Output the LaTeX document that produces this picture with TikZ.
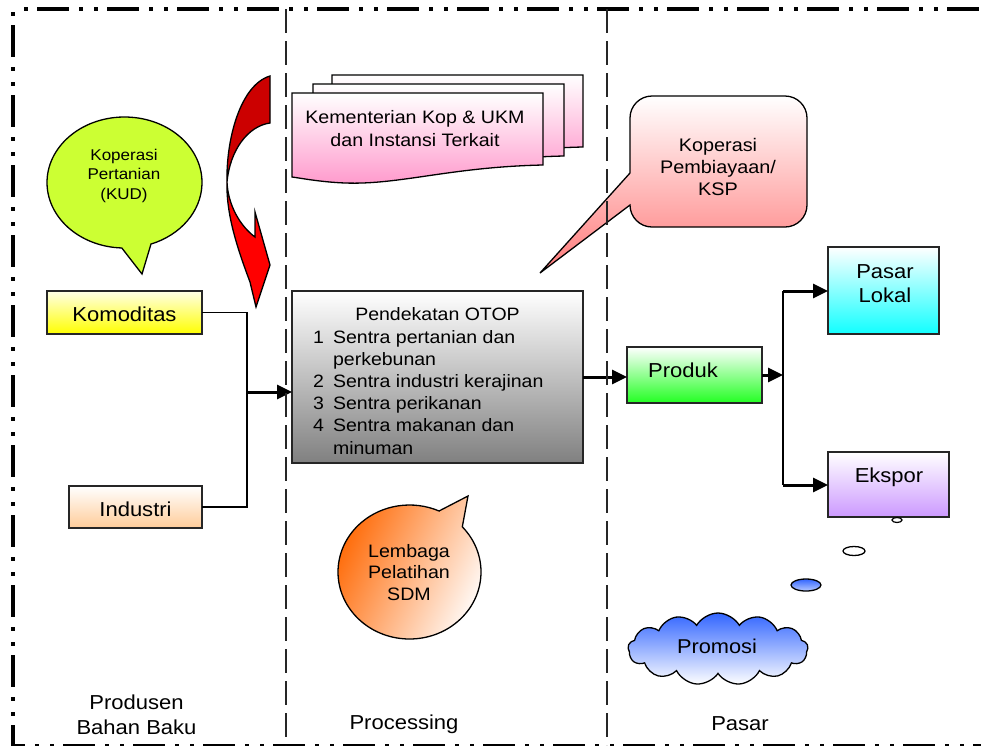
\documentclass[tikz,border=0pt]{standalone}
\usepackage{fontspec}
\setmainfont[FakeStretch=1.09]{Liberation Sans}
\usetikzlibrary{arrows.meta,shapes.symbols,shapes.geometric}
\newcommand\fsz[2]{\fontsize{#1}{#2}\selectfont}
\newcommand\mlines[1]{\begin{tabular}[t]{@{}c@{}}#1\end{tabular}}
\definecolor{kudc}{HTML}{CCFF33}
\definecolor{komc}{HTML}{FFFF00}
\definecolor{indc}{HTML}{FFCC99}
\definecolor{otopc}{HTML}{808080}
\definecolor{prodc}{HTML}{22FF22}
\definecolor{lokc}{HTML}{11FFFF}
\definecolor{ekc}{HTML}{CC99FF}
\definecolor{docc}{HTML}{FF99CC}
\definecolor{kspc}{HTML}{FF7A7A}
\definecolor{promc}{HTML}{3366FF}
\definecolor{lemc}{HTML}{FF6600}
\definecolor{lemmid}{HTML}{FFB8A0}
\definecolor{darkred}{HTML}{CC0000}
\definecolor{brightred}{HTML}{FF0000}
\tikzset{
 box/.style={draw=black!85, line width=1.3pt, inner sep=0pt, outer sep=0pt, anchor=north west},
 txt/.style={inner sep=0pt, anchor=base, text=black},
 conn/.style={line width=1.8pt, draw=black},
 harrow/.style={line width=3pt, draw=black, -{Triangle[length=15pt,width=14pt]}},
 frameline/.style={line width=3.5pt, draw=black, dash pattern=on 32pt off 10pt on 4pt off 11pt on 4pt off 9pt},
 divider/.style={line width=1.8pt, draw=black!85, dash pattern=on 24pt off 8pt},
 outline/.style={draw=black, line width=1.3pt},
}
\begin{document}
\begin{tikzpicture}[x=1pt,y=-1pt]
\useasboundingbox (0,0) rectangle (981,745);
\clip (0,0) rectangle (981,745);
\fill[white] (0,0) rectangle (981,745);

% outer frame
\draw[frameline, dash phase=46pt] (13,9) -- (985,9);
\draw[frameline, dash phase=54pt] (13,9) -- (13,750);
\draw[frameline, dash phase=20pt] (13,745.5) -- (985,745.5);

% documents (Kementerian)
\foreach \dx/\dy in {40/-18,21/-9,0/0}{
 \path[outline, top color=white, bottom color=docc, shift={(\dx,\dy)}]
   (292,93) -- (543,93) -- (543,165) .. controls (450,167) and (400,185) .. (345,183)
   .. controls (320,182) and (300,178) .. (292,177) -- cycle;
}
\node[txt, font=\fsz{18}{23}] (kem) at (415,123) {\mlines{Kementerian Kop \& UKM\\dan Instansi Terkait}};

% red curved arrow
\path[outline, fill=darkred] (270,76) -- (270,123) .. controls (248,126) and (230,150) .. (227,182)
   .. controls (226,140) and (240,85) .. (270,76) -- cycle;
\path[outline, fill=brightred] (227,182) .. controls (228,205) and (240,226) .. (255,237)
   -- (255,212) -- (270,265) -- (256,307) -- (250,282)
   .. controls (238,250) and (226,215) .. (227,182) -- cycle;

% KUD bubble
\path[outline, fill=kudc] (151.0,244.05) -- (142,274) -- (121.8,247.96)
   arc[start angle=92, end angle=430, x radius=77.5, y radius=65.5] -- cycle;
\node[txt, font=\fsz{15.6}{19.5}] (kud) at (124,160) {\mlines{Koperasi\\Pertanian\\(KUD)}};

% KSP callout
\path[outline, top color=white, bottom color=kspc]
   (630,173) -- (540,273) -- (630,205)
   .. controls (630,217.15) and (639.85,227) .. (652,227) -- (785,227)
   .. controls (797.15,227) and (807,217.15) .. (807,205) -- (807,118)
   .. controls (807,105.85) and (797.15,96) .. (785,96) -- (652,96)
   .. controls (639.85,96) and (630,105.85) .. (630,118) -- cycle;
\node[txt, font=\fsz{18.2}{22}] (ksp) at (718,151) {\mlines{Koperasi\\Pembiayaan/\\KSP}};

% boxes
\node[box, top color=white!90!komc, bottom color=komc, minimum width=155pt, minimum height=43pt] (kom) at (47,291) {};
\node[txt, font=\fsz{20.2}{24}] (komt) at (124.5,321) {Komoditas};
\node[box, top color=white, bottom color=indc, minimum width=133pt, minimum height=42pt] (ind) at (69,486) {};
\node[txt, font=\fsz{20.2}{24}] (indt) at (135.5,516) {Industri};

\node[box, top color=white, bottom color=otopc, minimum width=291pt, minimum height=172pt] (otop) at (292,291) {};
\node[txt, font=\fsz{17.9}{22.2}] (otopt) at (437.5,320) {Pendekatan OTOP};
\node[inner sep=0pt, anchor=base west, font=\fsz{17.9}{22.2}] (otopl) at (313,343)
  {\begin{tabular}[t]{@{}l@{\hspace{9pt}}l@{}}1 & Sentra pertanian dan\\ & perkebunan\\ 2 & Sentra industri kerajinan\\ 3 & Sentra perikanan\\ 4 & Sentra makanan dan\\ & minuman\end{tabular}};

\node[box, top color=white, bottom color=prodc, minimum width=135pt, minimum height=56pt] (prod) at (627,347) {};
\node[txt, font=\fsz{20.2}{24}] (prodt) at (683,377) {Produk};
\node[box, top color=white, bottom color=lokc, minimum width=111pt, minimum height=87pt] (lok) at (828,247) {};
\node[txt, font=\fsz{20.2}{24}] (lokt) at (885,278) {\mlines{Pasar\\Lokal}};
\node[box, top color=white, bottom color=ekc, minimum width=121pt, minimum height=65pt] (eks) at (828,452) {};
\node[txt, font=\fsz{20.2}{24}] (ekst) at (889,482) {Ekspor};

% connectors
\coordinate (j1) at (247,392);
\draw[conn] (kom.east) -| (j1);
\draw[conn] (ind.east) -| (j1);
\draw[harrow] (j1) -- (j1 -| otop.west);
\draw[harrow] (otop.east) -- (otop.east -| prod.west);
\coordinate (j2) at (783,375);
\coordinate (j3) at (783,291);
\coordinate (j4) at (783,485);
\draw[harrow] (prod.east) -- (j2);
\draw[conn, line width=1.6pt] (j3) -- (j4);
\draw[harrow] (j3) -- (j3 -| lok.west);
\draw[harrow] (j4) -- (j4 -| eks.west);

% Lembaga bubble
\path[outline, top color=lemc, middle color=lemmid, bottom color=white, shading angle=65]
   (439.04,510.98) -- (468,496) -- (462.30,526.82)
   arc[start angle=-42.4, end angle=294.4, x radius=71.5, y radius=67] -- cycle;
\node[txt, font=\fsz{18}{21.5}] (lem) at (409,557) {\mlines{Lembaga\\Pelatihan\\SDM}};

% thought bubbles and cloud
\draw[outline, fill=white, line width=1.2pt] (897,520) ellipse [x radius=5, y radius=2.5];
\draw[outline, fill=white] (854,551) ellipse [x radius=11, y radius=4.5];
\draw[outline, top color=promc, bottom color=promc!35!white] (806,585) ellipse [x radius=15, y radius=6];
\node[cloud, cloud puffs=13, cloud puff arc=120, aspect=2.5, draw=black, line width=1.3pt,
      top color=promc, bottom color=white, minimum width=180pt, minimum height=72pt, inner sep=0pt] (promo) at (718,649) {};
\node[txt, font=\fsz{20}{24}] (promt) at (717,653) {Promosi};

% dividers
\draw[divider] (286,9) -- (286,745);
\draw[divider] (607,9) -- (607,745);

% column labels
\node[txt, font=\fsz{20.2}{25}] (col1) at (136.5,709) {\mlines{Produsen\\Bahan Baku}};
\node[txt, font=\fsz{20.2}{25}] (col2) at (404,729) {Processing};
\node[txt, font=\fsz{20.2}{25}] (col3) at (740,730) {Pasar};
\end{tikzpicture}
\end{document}
